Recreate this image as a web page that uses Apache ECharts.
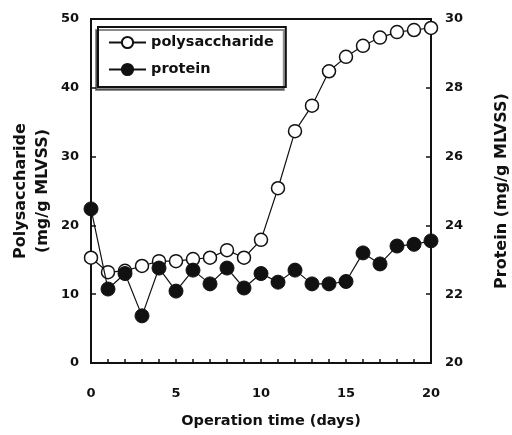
<!DOCTYPE html>
<html>
<head>
    <meta charset="utf-8">
    <title>Polysaccharide and protein</title>
    <script src="https://cdn.jsdelivr.net/npm/echarts@6/dist/echarts.min.js"></script>
    <style>
        html, body { margin: 0; padding: 0; background: #fff; }
        #chart1 { width: 512px; height: 435px; }
    </style>
</head>
<body>
<div id="chart1"></div>
<script type="text/javascript">
    // 数据：按天读取
    var days = [0, 1, 2, 3, 4, 5, 6, 7, 8, 9, 10, 11, 12, 13, 14, 15, 16, 17, 18, 19, 20];
    var polysaccharide = [15.3, 13.2, 13.4, 14.1, 14.8, 14.8, 15.1, 15.3, 16.4, 15.3, 17.9, 25.4, 33.7, 37.4, 42.4, 44.5, 46.1, 47.3, 48.1, 48.4, 48.7];
    var protein = [24.48, 22.15, 22.6, 21.37, 22.76, 22.09, 22.7, 22.3, 22.76, 22.18, 22.6, 22.35, 22.7, 22.3, 22.3, 22.37, 23.2, 22.88, 23.4, 23.45, 23.55];
    var leftTicks = [0, 10, 20, 30, 40, 50];
    var rightTicks = [20, 22, 24, 26, 28, 30];

    function pairs(ys) {
        return days.map(function (d, i) { return [d, ys[i]]; });
    }

    var font = 'DejaVu Sans, Liberation Sans, sans-serif';
    var ink = '#111';
    var myChart1 = echarts.init(document.getElementById('chart1'));

    myChart1.setOption({
        animation: false,
        backgroundColor: '#fff',
        textStyle: { fontFamily: font },
        grid: {
            left: 91, right: 81, top: 19, bottom: 72,
            containLabel: false,
            outerBoundsMode: 'none',
            show: true, borderColor: ink, borderWidth: 2
        },
        legend: {
            left: 98, top: 27,
            orient: 'vertical',
            padding: [8, 12, 10, 10],
            itemGap: 12,
            itemWidth: 37, itemHeight: 14,
            backgroundColor: '#fff',
            borderColor: ink, borderWidth: 2,
            shadowColor: 'rgba(0,0,0,0.45)', shadowOffsetX: -2, shadowOffsetY: 3, shadowBlur: 0,
            textStyle: { fontFamily: font, fontWeight: 'bold', fontSize: 14.5, color: ink },
            data: ['polysaccharide', 'protein']
        },
        xAxis: {
            type: 'value',
            min: 0, max: 20, interval: 1,
            name: 'Operation time (days)',
            nameLocation: 'middle',
            nameGap: 51,
            nameMoveOverlap: false,
            nameTextStyle: { fontFamily: font, fontWeight: 'bold', fontSize: 14.5, color: ink, padding: [0, 0, 0, 20] },
            axisLine: { lineStyle: { color: ink, width: 2 } },
            axisTick: { inside: true, length: 4, lineStyle: { color: ink, width: 1.5 } },
            axisLabel: {
                margin: 24,
                fontFamily: font, fontWeight: 'bold', fontSize: 13, color: ink,
                formatter: function (v) { return v % 5 === 0 ? String(v) : ''; }
            },
            splitLine: { show: false }
        },
        yAxis: [{
            type: 'value',
            min: leftTicks[0], max: leftTicks[leftTicks.length - 1], interval: 10,
            position: 'left',
            name: 'Polysaccharide\n(mg/g MLVSS)',
            nameLocation: 'middle',
            nameGap: 37,
            nameMoveOverlap: false,
            nameRotate: 90,
            nameTextStyle: { fontFamily: font, fontWeight: 'bold', fontSize: 16, color: ink, lineHeight: 22 },
            axisLine: { show: true, lineStyle: { color: ink, width: 2 } },
            axisTick: { show: true, inside: true, length: 5, lineStyle: { color: ink, width: 1.5 } },
            axisLabel: { margin: 12, fontFamily: font, fontWeight: 'bold', fontSize: 13, color: ink },
            splitLine: { show: false }
        }, {
            type: 'value',
            min: rightTicks[0], max: rightTicks[rightTicks.length - 1], interval: 2,
            position: 'right',
            name: 'Protein (mg/g MLVSS)',
            nameLocation: 'middle',
            nameGap: 63,
            nameMoveOverlap: false,
            nameRotate: 90,
            nameTextStyle: { fontFamily: font, fontWeight: 'bold', fontSize: 16, color: ink },
            axisLine: { show: true, lineStyle: { color: ink, width: 2 } },
            axisTick: { show: true, inside: true, length: 5, lineStyle: { color: ink, width: 1.5 } },
            axisLabel: { margin: 14, fontFamily: font, fontWeight: 'bold', fontSize: 13, color: ink },
            splitLine: { show: false }
        }],
        series: [{
            name: 'polysaccharide',
            type: 'line',
            yAxisIndex: 0,
            data: pairs(polysaccharide),
            symbol: 'circle',
            symbolSize: 13,
            lineStyle: { color: ink, width: 1.2 },
            itemStyle: { color: '#fff', borderColor: ink, borderWidth: 1.5 },
            z: 2
        }, {
            name: 'protein',
            type: 'line',
            yAxisIndex: 1,
            data: pairs(protein),
            symbol: 'circle',
            symbolSize: 14,
            lineStyle: { color: ink, width: 1.2 },
            itemStyle: { color: ink, borderColor: ink, borderWidth: 1 },
            z: 3
        }]
    });
</script>
</body>
</html>
